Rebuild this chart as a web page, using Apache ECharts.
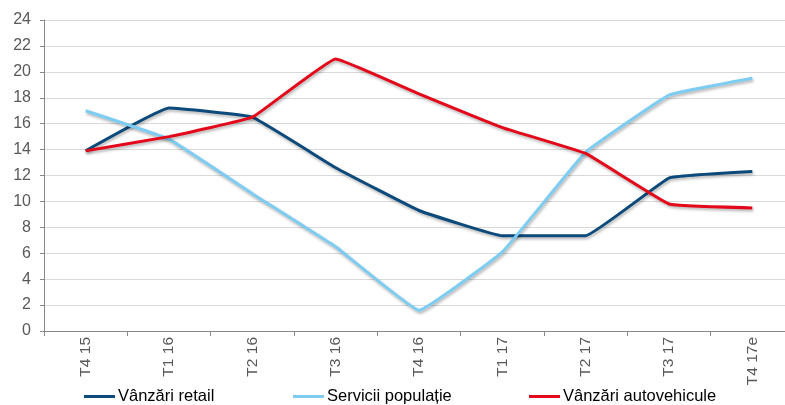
<!DOCTYPE html>
<html><head><meta charset="utf-8">
<script src="https://cdn.jsdelivr.net/npm/echarts@6/dist/echarts.min.js"></script>
<style>html,body{margin:0;padding:0;background:#fff}#c{width:785px;height:405px}</style>
</head><body><div id="c"></div>
<script>
const categories = ['T4 15','T1 16','T2 16','T3 16','T4 16','T1 17','T2 17','T3 17','T4 17e'];
const retail = [13.9, 17.2, 16.5, 12.6, 9.3, 7.35, 7.35, 11.8, 12.3];
const servicii = [17.0, 14.8, 10.6, 6.5, 1.6, 6.1, 13.8, 18.2, 19.5];
const auto = [13.9, 15.0, 16.5, 21.0, 18.3, 15.7, 13.7, 9.8, 9.5];
const names = ['Vânzări retail', 'Servicii populație', 'Vânzări autovehicule'];
const colors = ['#0B4A7B', '#7DCDF3', '#E3081A'];

const chart = echarts.init(document.getElementById('c'));
const font = 'Liberation Sans, Arial, sans-serif';
function ser(i, data) {
  return {
    name: names[i], type: 'line', data: data, symbol: 'none', smooth: 0.08,
    lineStyle: { color: colors[i], width: 3, shadowColor: 'rgba(0,0,0,0.3)', shadowBlur: 3, shadowOffsetX: 1, shadowOffsetY: 2 },
    itemStyle: { color: colors[i] }
  };
}
function leg(i, left) {
  return {
    data: [names[i]], left: left, top: 383, icon: 'rect', itemWidth: 31, itemHeight: 3, itemGap: 0,
    textStyle: { fontFamily: font, fontSize: 16.5, color: '#000', padding: [0,0,0,-2] }
  };
}
chart.setOption({
  animation: false,
  grid: { left: 44, width: 750, top: 20, bottom: 74, containLabel: false, outerBoundsMode: 'none' },
  legend: [leg(0, 79), leg(1, 288), leg(2, 524)],
  xAxis: {
    type: 'category', data: categories, boundaryGap: true,
    axisLine: { lineStyle: { color: '#888', width: 1 } },
    axisTick: { show: true, length: 5, lineStyle: { color: '#888' } },
    axisLabel: { rotate: 90, margin: 6, fontFamily: font, fontSize: 15.5, color: '#595959' }
  },
  yAxis: {
    type: 'value', min: 0, max: 24, interval: 2,
    axisLine: { show: true, lineStyle: { color: '#888' } },
    axisTick: { show: true, length: 4, lineStyle: { color: '#888' } },
    axisLabel: { margin: 13, fontFamily: font, fontSize: 16, color: '#595959' },
    splitLine: { lineStyle: { color: '#D9D9D9', width: 1 } }
  },
  series: [ser(0, retail), ser(1, servicii), ser(2, auto)]
});
</script></body></html>
